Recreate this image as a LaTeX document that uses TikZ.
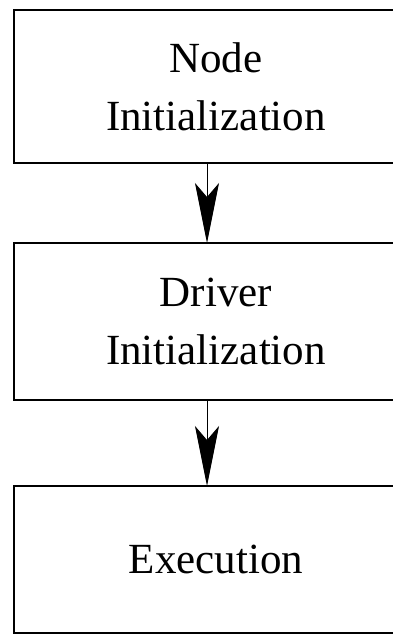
\documentclass[tikz,border=0pt]{standalone}
\usepackage{fontspec}
\setmainfont{Liberation Serif}
\usetikzlibrary{positioning,arrows.meta}

\begin{document}
\begin{tikzpicture}
    \useasboundingbox (0,0) rectangle (393pt,-635pt);
    \tikzset{blok/.style={draw,line width=1.6pt,minimum width=404pt,align=center,
        font=\fontsize{43}{58}\selectfont,inner sep=0pt,outer sep=0pt}}
    \tikzset{pijl/.style={line width=0.9pt,-{Stealth[length=60pt,width=24pt,inset=14pt]}}}
    \node[blok,minimum height=153pt] (nodeinit) at (216pt,-86.5pt) {Node\\Initialization};
    \node[blok,minimum height=157pt,below=80pt of nodeinit] (driverinit) {Driver\\Initialization};
    \node[blok,minimum height=147pt,below=86pt of driverinit] (exec) {Execution};
    \draw[pijl] ([xshift=-9pt]nodeinit.south) -- ([xshift=-9pt]driverinit.north);
    \draw[pijl] ([xshift=-9pt]driverinit.south) -- ([xshift=-9pt]exec.north);
  \end{tikzpicture}
\end{document}
